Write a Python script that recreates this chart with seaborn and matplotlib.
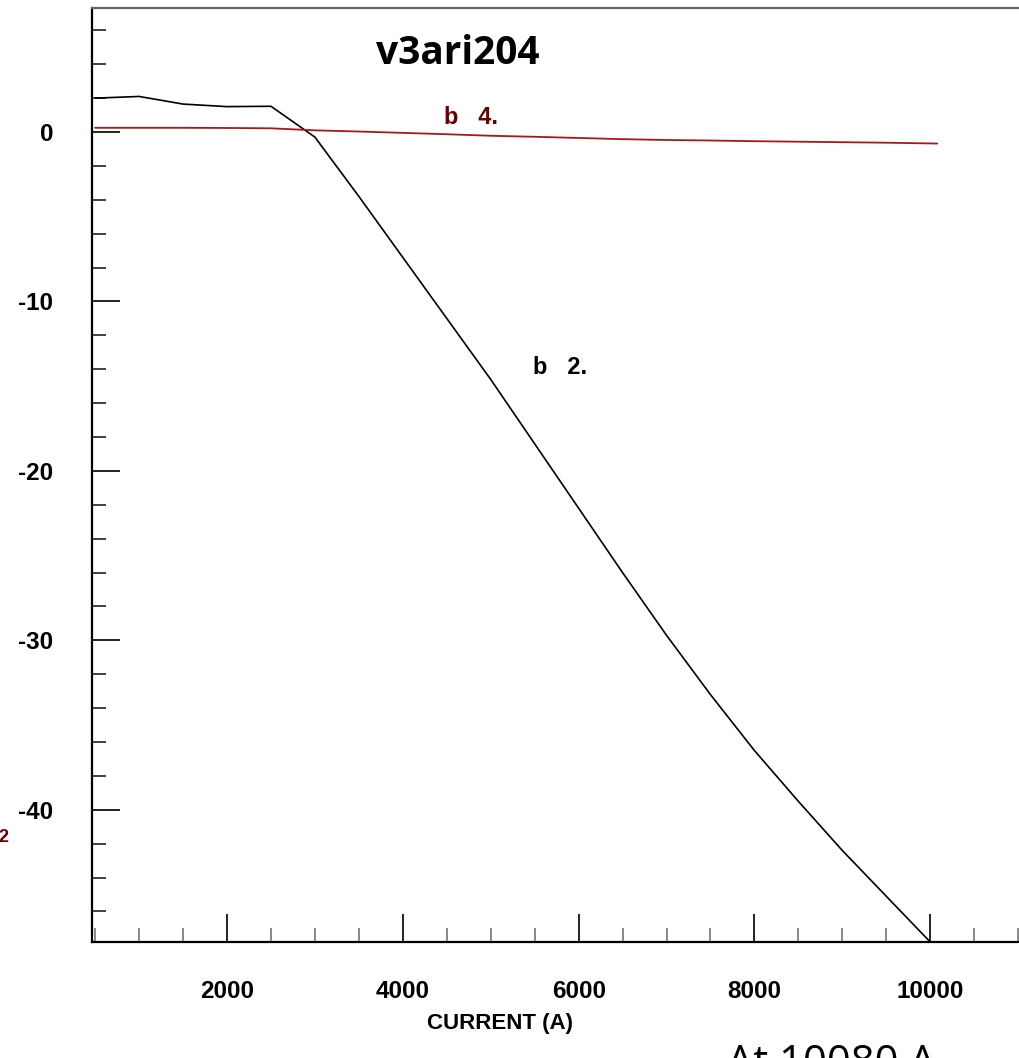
import matplotlib
matplotlib.use("Agg")
import matplotlib.pyplot as plt
from matplotlib.ticker import MultipleLocator
import seaborn as sns
import pandas as pd

# ---- data ----
current_b2 = [500, 1000, 1500, 2000, 2500, 3000, 3500, 4000, 4500, 5000, 5500,
              6000, 6500, 7000, 7500, 8000, 8500, 9000, 9500, 10000]
values_b2 = [2.0, 2.1, 1.65, 1.5, 1.52, -0.3, -3.8, -7.4, -11.0, -14.6, -18.4,
             -22.2, -26.0, -29.7, -33.2, -36.5, -39.5, -42.4, -45.1, -47.8]

current_b4 = [500, 1000, 1500, 2000, 2500, 3000, 3500, 4000, 4500, 5000, 5500,
              6000, 6500, 7000, 7500, 8000, 8500, 9000, 9500, 10080]
values_b4 = [0.25, 0.25, 0.25, 0.24, 0.22, 0.10, 0.03, -0.05, -0.13, -0.22, -0.28,
             -0.35, -0.42, -0.47, -0.50, -0.54, -0.57, -0.60, -0.63, -0.68]

title_text = "v3ari204"
xlabel_text = "CURRENT (A)"
note_text = "At 10080 A"
label_b2 = "b   2."
label_b4 = "b   4."

sns.set_style("white")
plt.rcParams["font.family"] = ["Liberation Sans", "DejaVu Sans"]
plt.rcParams["axes.unicode_minus"] = False
plt.rcParams["text.color"] = "black"
plt.rcParams["xtick.color"] = "black"
plt.rcParams["ytick.color"] = "black"

W, H = 1020, 1058
fig = plt.figure(figsize=(W / 100, H / 100), dpi=100)
ax = fig.add_axes([92 / W, 116 / H, 970 / W, 934 / H])

df2 = pd.DataFrame({"current": current_b2, "value": values_b2})
df4 = pd.DataFrame({"current": current_b4, "value": values_b4})
sns.lineplot(data=df2, x="current", y="value", ax=ax, color="black", lw=1.2,
             sort=False, estimator=None)
sns.lineplot(data=df4, x="current", y="value", ax=ax, color="#a81818", lw=1.3,
             sort=False, estimator=None)

ax.set_xlim(464, 11499)
ax.set_ylim(-47.8, 7.32)
ax.set_xlabel("")
ax.set_ylabel("")

ax.xaxis.set_major_locator(MultipleLocator(2000))
ax.xaxis.set_minor_locator(MultipleLocator(500))
ax.yaxis.set_major_locator(MultipleLocator(10))
ax.yaxis.set_minor_locator(MultipleLocator(2))

ax.tick_params(axis="both", which="both", bottom=True, left=True, top=False,
               right=False, direction="in")
ax.tick_params(axis="both", which="major", length=20, width=1.4,
               color="#222222", labelsize=17.5, labelcolor="black", pad=27)
ax.tick_params(axis="x", which="minor", length=10, width=1.1,
               color="#6a6a6a")
ax.tick_params(axis="y", which="minor", length=10, width=1.3,
               color="#333333")
ax.tick_params(axis="y", which="major", pad=28)
for lab in ax.get_xticklabels() + ax.get_yticklabels():
    lab.set_fontweight("bold")

for side in ["left", "bottom"]:
    ax.spines[side].set_color("black")
    ax.spines[side].set_linewidth(1.6)
ax.spines["top"].set_color("#666666")
ax.spines["top"].set_linewidth(1.6)
ax.spines["right"].set_visible(False)

ax.text(4470, 0.88, label_b4, color="#6b0000", fontsize=17, fontweight="bold",
        ha="left", va="center")
ax.text(5481, -13.9, label_b2, color="black", fontsize=17, fontweight="bold",
        ha="left", va="center")

fig.text(458 / W, 1 - 54 / H, title_text, fontsize=28, fontweight="bold",
         family=["Open Sans", "DejaVu Sans"], ha="center", va="center",
         color="black")
fig.text(500 / W, 1 - 1024 / H, xlabel_text, fontsize=16, fontweight="bold",
         ha="center", va="center", color="black")
fig.text(727 / W, 1 - 1043 / H, note_text, fontsize=30, ha="left", va="top",
         family=["Open Sans", "DejaVu Sans"], color="black")
fig.text(8.5 / W, 1 - 837 / H, "2", color="#6b0000", fontsize=13,
         fontweight="bold", ha="right", va="center")

fig.savefig("out.png", dpi=100)
